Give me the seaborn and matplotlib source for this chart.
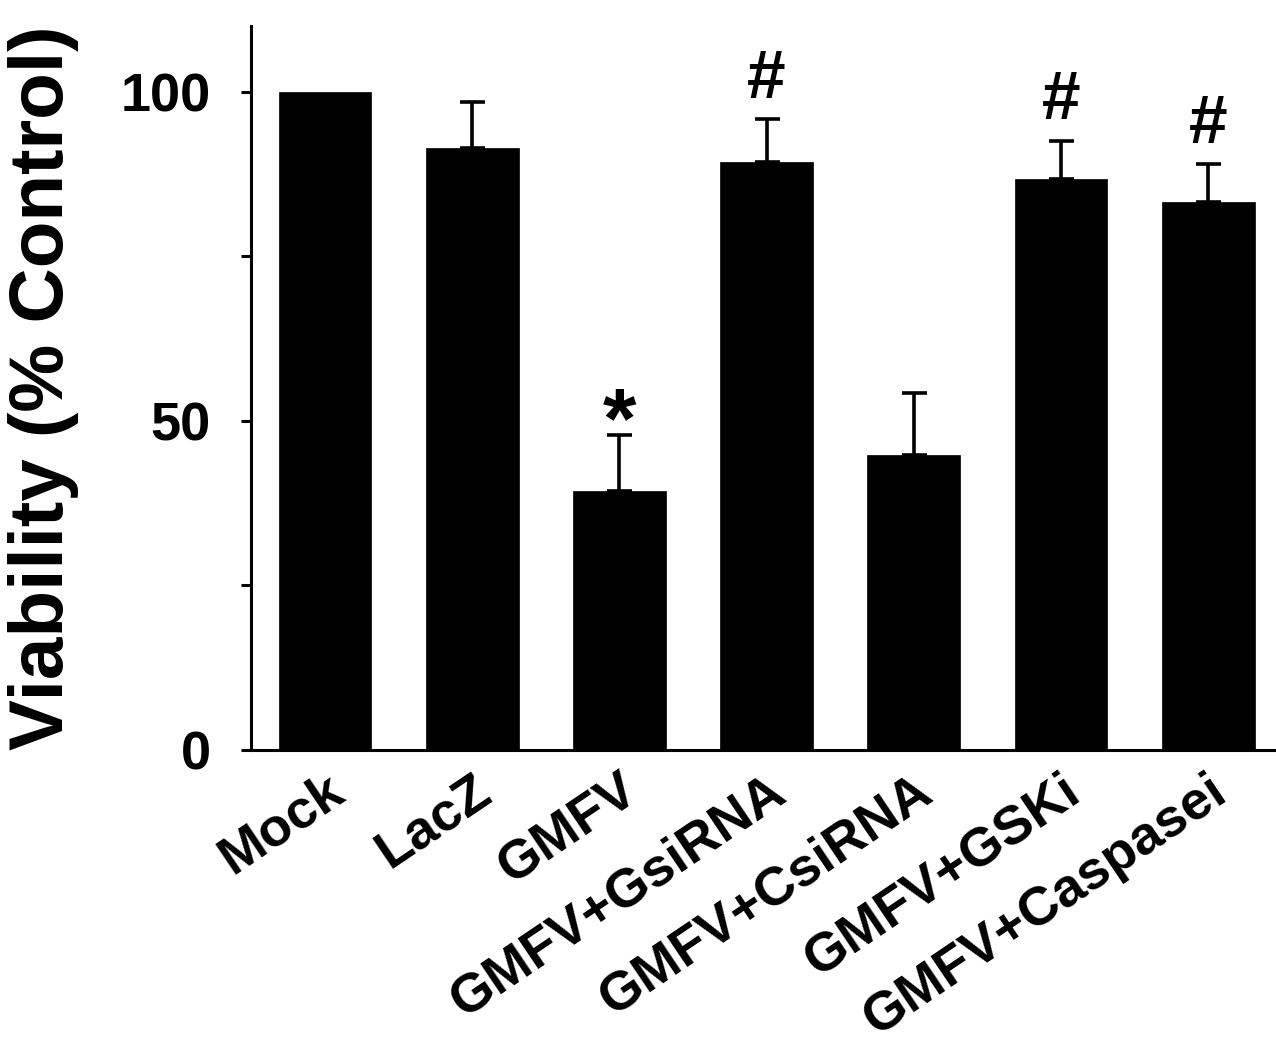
import numpy as np
import pandas as pd
import matplotlib
matplotlib.use("Agg")
import matplotlib.pyplot as plt
import seaborn as sns

# values (% of control)
groups = ["Mock", "LacZ", "GMFV", "GMFV+GsiRNA", "GMFV+CsiRNA", "GMFV+GSKi", "GMFV+Caspasei"]
viability = [100.0, 91.4, 39.3, 89.4, 44.8, 86.8, 83.3]
sem = [0.0, 7.0, 8.5, 6.4, 9.4, 5.8, 5.7]
marks = ["", "", "*", "#", "", "#", "#"]

sns.set_style("ticks")
plt.rcParams["font.family"] = ["Liberation Sans", "DejaVu Sans"]
plt.rcParams["font.weight"] = "bold"
plt.rcParams["text.color"] = "black"
plt.rcParams["xtick.color"] = "black"
plt.rcParams["ytick.color"] = "black"
plt.rcParams["axes.labelcolor"] = "black"
plt.rcParams["axes.edgecolor"] = "black"

df = pd.DataFrame({"group": groups, "viability": viability, "sem": sem})

fig = plt.figure(figsize=(12.76, 10.54), dpi=100)
ax = fig.add_axes([0.1967, 0.2884, 0.8033, 0.6869])

sns.barplot(data=df, x="group", y="viability", color="black", saturation=1,
            width=0.63, edgecolor="black", linewidth=0.5, errorbar=None, ax=ax)

# upper-only error bars, skip the control bar
x = np.arange(len(groups))
has_err = df["sem"] > 0
ax.errorbar(x[has_err], df["viability"][has_err],
            yerr=[np.zeros(has_err.sum()), df["sem"][has_err]],
            fmt="none", ecolor="black", elinewidth=2.6, capsize=9, capthick=2.6)

# significance markers
for i, m in enumerate(marks):
    if not m:
        continue
    top = viability[i] + sem[i]
    if m == "*":
        ax.text(i, top - 1.8, m, ha="center", va="baseline", fontsize=62,
                fontweight="bold", color="black")
    else:
        ax.text(i, top + 3.3, m, ha="center", va="baseline", fontsize=50,
                fontweight="bold", color="black")

ax.set_xlim(-0.503, 6.46)
ax.set_ylim(0, 110)
ax.set_yticks([0, 25, 50, 75, 100])
ax.set_yticklabels(["0", "", "50", "", "100"])
ax.tick_params(axis="y", length=7, width=2.2, pad=22, labelsize=39)
ax.tick_params(axis="x", length=0, pad=11, labelsize=39)
for lab in ax.get_xticklabels():
    lab.set_rotation(34)
    lab.set_ha("right")
    lab.set_va("top")
    lab.set_rotation_mode("anchor")
    lab.set_fontweight("bold")
for lab in ax.get_yticklabels():
    lab.set_fontweight("bold")

ax.set_xlabel("")
ax.set_ylabel("Viability (% Control)", fontsize=55, fontweight="bold", labelpad=30)
sns.despine(ax=ax)
ax.spines["left"].set_linewidth(2.2)
ax.spines["bottom"].set_linewidth(2.2)

fig.savefig("out.png", dpi=100)
